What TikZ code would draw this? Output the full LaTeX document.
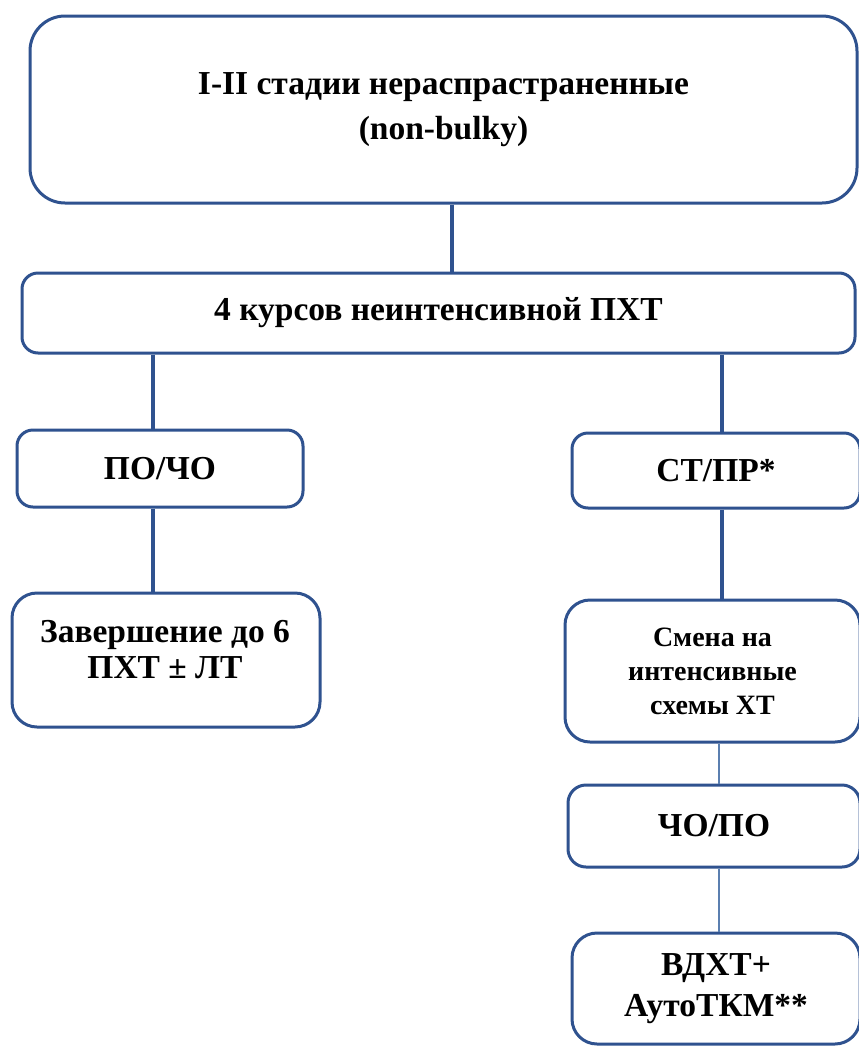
\documentclass[tikz,border=0pt]{standalone}
\usepackage{fontspec}
\setmainfont{Liberation Serif}
\definecolor{bd}{HTML}{2F528F}
\definecolor{ln}{HTML}{5B7FB0}
\tikzset{
  box/.style={draw=bd, line width=3pt, fill=white, inner sep=0pt, align=center},
  big/.style={font=\bfseries\fontsize{33.5}{40}\selectfont},
  txt/.style={inner sep=0pt, align=center},
  conn/.style={draw=bd, line width=3.2pt},
  thin/.style={draw=ln, line width=1.8pt}
}
\begin{document}
\begin{tikzpicture}[x=1pt,y=-1pt]
\fill[white] (0,0) rectangle (859,1050);
\useasboundingbox (0,0) rectangle (859,1050);

% boxes
\node[box, rounded corners=35pt, minimum width=827pt, minimum height=187pt,
      font=\bfseries\fontsize{33.5}{45}\selectfont] (b1) at (443.5,109.5)
      {I-II стадии нераспрастраненные\\(non-bulky)};
\node[box, big, rounded corners=16pt, minimum width=833pt, minimum height=80pt] (b2) at (438.5,313)
      {4 курсов неинтенсивной ПХТ};
\node[box, big, rounded corners=16pt, minimum width=286pt, minimum height=77pt] (l1) at (160,468.5)
      {ПО/ЧО};
\node[box, rounded corners=25pt, minimum width=308pt, minimum height=134pt] (l2) at (166,660) {};
\node[txt, font=\bfseries\fontsize{33.5}{36}\selectfont] (l2t) at (165,650)
      {Завершение до 6\\ПХТ ± ЛТ};
\node[box, big, rounded corners=16pt, minimum width=288pt, minimum height=75pt] (r1) at (716,470.5)
      {СТ/ПР*};
\node[box, rounded corners=25pt, minimum width=295pt, minimum height=142pt,
      font=\bfseries\fontsize{28}{34}\selectfont] (r2) at (712.5,671)
      {Смена на\\интенсивные\\схемы ХТ};
\node[box, big, rounded corners=18pt, minimum width=292pt, minimum height=82pt] (r3) at (714,826)
      {ЧО/ПО};
\node[box, rounded corners=25pt, minimum width=288pt, minimum height=111pt,
      font=\bfseries\fontsize{33.5}{41}\selectfont] (r4) at (716,988.5)
      {ВДХТ+\\АутоТКМ**};

% connector x positions
\coordinate (cx0) at (452,0);
\coordinate (cxl) at (153,0);
\coordinate (cxr) at (722,0);
\coordinate (cxt) at (719,0);

\draw[conn] (b1.south -| cx0) -- (b2.north -| cx0);
\draw[conn] (b2.south -| cxl) -- (l1.north -| cxl);
\draw[conn] (l1.south -| cxl) -- (l2.north -| cxl);
\draw[conn] (b2.south -| cxr) -- (r1.north -| cxr);
\draw[conn] (r1.south -| cxr) -- (r2.north -| cxr);
\draw[thin] (r2.south -| cxt) -- (r3.north -| cxt);
\draw[thin] (r3.south -| cxt) -- (r4.north -| cxt);
\end{tikzpicture}
\end{document}
